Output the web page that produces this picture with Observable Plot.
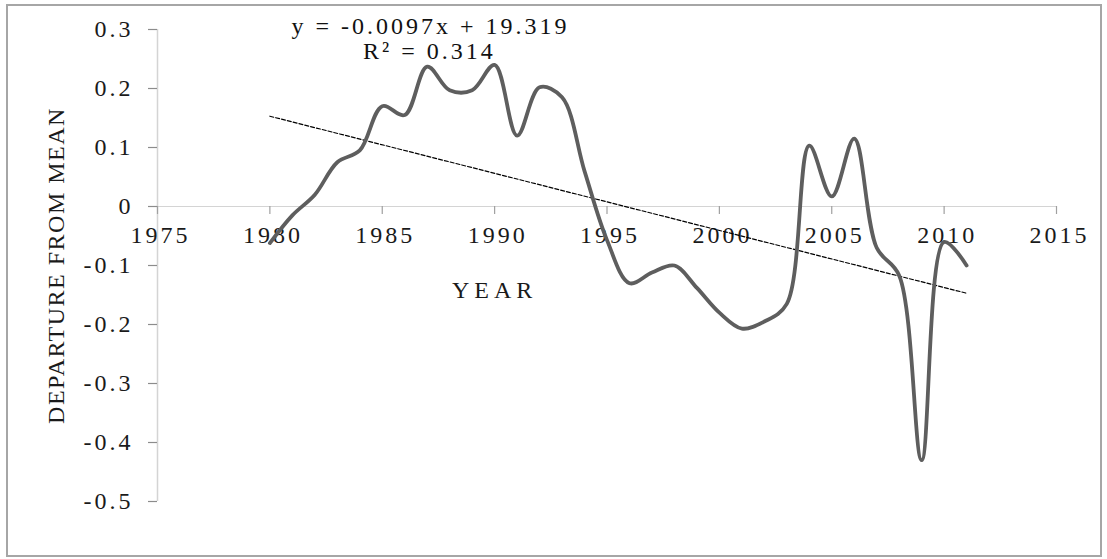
<!DOCTYPE html>
<html>
<head>
<meta charset="utf-8">
<script src="https://cdn.jsdelivr.net/npm/d3@7"></script>
<script src="https://cdn.jsdelivr.net/npm/@observablehq/plot@0.6"></script>
<style>
  html, body { margin: 0; padding: 0; background: #fff; overflow: hidden; }
  #wrap { position: relative; width: 1107px; height: 559px; }
  #border { position: absolute; left: 6px; top: 4px; width: 1096px; height: 553px; border: 2px solid #a6a6a6; box-sizing: border-box; pointer-events: none; }
</style>
</head>
<body>
<div id="wrap"><div id="border"></div></div>
<script>
// Data
const years = [1980, 1981, 1982, 1983, 1984, 1985, 1986, 1987, 1988, 1989,
               1990, 1991, 1992, 1993, 1994, 1995, 1996, 1997, 1998, 1999,
               2000, 2001, 2002, 2003, 2004, 2005, 2006, 2007, 2008, 2009,
               2010, 2011];
const departures = [-0.062, -0.015, 0.02, 0.075, 0.095, 0.17, 0.155, 0.237, 0.197, 0.197,
                    0.24, 0.12, 0.202, 0.185, 0.06, -0.057, -0.13, -0.112, -0.1, -0.138,
                    -0.18, -0.207, -0.195, -0.165, 0.103, 0.017, 0.115, -0.07, -0.117, -0.43,
                    -0.06, -0.1];
// Linear trend line endpoints (as drawn)
const trendYears = [1980, 2011];
const trendValues = [0.153, -0.147];

const xTicks = [1975, 1980, 1985, 1990, 1995, 2000, 2005, 2010, 2015];
const xTickLabels = ["1975", "1980", "1985", "1990", "1995", "2000", "2005", "2010", "2015"];
const yTicks = [0.3, 0.2, 0.1, 0, -0.1, -0.2, -0.3, -0.4, -0.5];
const yTickLabels = ["0.3", "0.2", "0.1", "0", "-0.1", "-0.2", "-0.3", "-0.4", "-0.5"];

const equationText = "y = -0.0097x + 19.319";
const r2Text = "R\u00B2 = 0.314";
const xLabel = "YEAR";
const yLabel = "DEPARTURE FROM MEAN";

const series = years.map((y, i) => ({year: y, value: departures[i]}));
const trend = trendYears.map((y, i) => ({year: y, value: trendValues[i]}));
const font = "Liberation Serif";

const chart = Plot.plot({
  width: 1107,
  height: 559,
  marginLeft: 157,
  marginRight: 51,
  marginTop: 29,
  marginBottom: 58,
  style: {fontFamily: font, background: "transparent"},
  x: {domain: [1975, 2015], axis: null},
  y: {domain: [-0.5, 0.3], axis: null},
  marks: [
    // axis lines
    Plot.ruleX([1975], {stroke: "#d4d4d4", strokeWidth: 1.5}),
    Plot.ruleY([0], {stroke: "#d4d4d4", strokeWidth: 1.2}),
    // y ticks
    Plot.ruleY(yTicks, {y: d => d, x1: 1975, x2: 1975, insetLeft: -9, stroke: "#8c8c8c", strokeWidth: 1.2}),
    // x ticks (hanging below zero line)
    Plot.ruleX(xTicks, {x: d => d, y1: 0, y2: 0, insetBottom: -8, stroke: "#a0a0a0", strokeWidth: 1.2}),
    // y tick labels
    Plot.text(yTicks, {x: 1975, y: d => d, text: (d, i) => yTickLabels[i], textAnchor: "end", dx: -24, fontSize: 24, fontFamily: font, fill: "#1a1a1a"}),
    // x tick labels
    Plot.text(xTicks, {x: d => d, y: 0, text: (d, i) => xTickLabels[i], dy: 29, dx: 3, fontSize: 24, fontFamily: font, fill: "#1a1a1a"}),
    // trend line
    Plot.line(trend, {x: "year", y: "value", stroke: "#000", strokeWidth: 1.2, strokeDasharray: "4,2"}),
    // data curve
    Plot.line(series, {x: "year", y: "value", stroke: "#5e5e5e", strokeWidth: 3.8, curve: "catmull-rom"}),
    // equation
    Plot.text([equationText], {x: 1987.15, y: 0.3, dy: -3, fontSize: 24, fontFamily: font, fill: "#111"}),
    Plot.text([r2Text], {x: 1987.1, y: 0.3, dy: 22, fontSize: 24, fontFamily: font, fill: "#111"}),
    // axis titles
    Plot.text([xLabel], {x: 1990, y: 0, dy: 84, fontSize: 24, fontFamily: font, fill: "#1a1a1a"}),
    Plot.text([yLabel], {frameAnchor: "left", dx: -101, rotate: -90, textAnchor: "middle", fontSize: 24, fontFamily: font, fill: "#1a1a1a"})
  ]
});
// serif face and wide tracking, as in the stretched original
d3.select(chart).selectAll("text")
  .attr("font-family", font)
  .style("letter-spacing", function () {
    const t = this.textContent;
    if (t === yLabel) return "1.5px";
    if (t === xLabel) return "5px";
    return "3px";
  });
document.getElementById("wrap").prepend(chart);
</script>
</body>
</html>
